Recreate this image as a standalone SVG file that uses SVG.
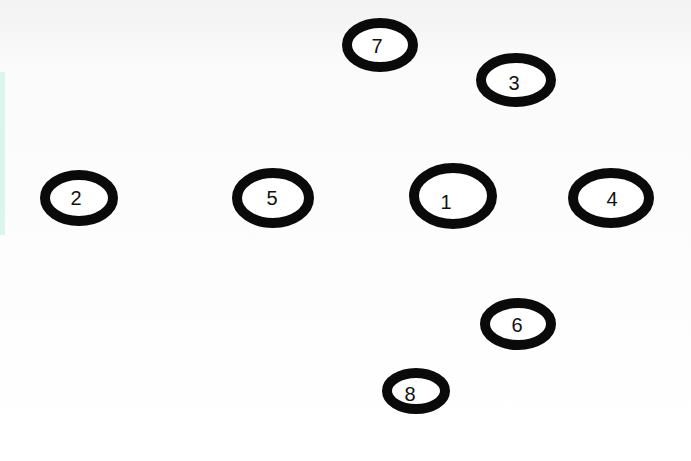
<svg xmlns="http://www.w3.org/2000/svg" width="691" height="461" viewBox="0 0 691 461">
<defs>
<linearGradient id="bg" x1="0" y1="0" x2="0" y2="1">
<stop offset="0" stop-color="#f2f2f2"/>
<stop offset="0.15" stop-color="#fbfbfb"/>
<stop offset="1" stop-color="#ffffff"/>
</linearGradient>
</defs>
<style>
.ring{fill:#ffffff;stroke:#0a0a0a;stroke-width:10}
.lbl{font-family:"Liberation Sans",Arial,sans-serif;font-size:20px;fill:#111111;text-anchor:middle;dominant-baseline:central}
</style>
<rect x="0" y="0" width="691" height="461" fill="url(#bg)"/>
<rect x="0" y="72" width="5" height="163" fill="#dcf4ee"/>
<g id="connectors"></g>
<g id="node7"><ellipse class="ring" cx="380" cy="45" rx="33" ry="22"/><text class="lbl" x="377" y="46">7</text></g>
<g id="node3"><ellipse class="ring" cx="516" cy="80" rx="35" ry="22"/><text class="lbl" x="514" y="83">3</text></g>
<g id="node2"><ellipse class="ring" cx="79" cy="198" rx="34" ry="23"/><text class="lbl" x="76" y="198">2</text></g>
<g id="node5"><ellipse class="ring" cx="273" cy="198" rx="36" ry="25"/><text class="lbl" x="272" y="198">5</text></g>
<g id="node1"><ellipse class="ring" cx="453" cy="196" rx="39" ry="28"/><text class="lbl" x="446" y="202">1</text></g>
<g id="node4"><ellipse class="ring" cx="611" cy="198" rx="38" ry="25"/><text class="lbl" x="612" y="199">4</text></g>
<g id="node6"><ellipse class="ring" cx="518" cy="324" rx="33" ry="21"/><text class="lbl" x="517" y="325">6</text></g>
<g id="node8"><ellipse class="ring" cx="416" cy="391" rx="29" ry="18"/><text class="lbl" x="410" y="394">8</text></g>
</svg>
